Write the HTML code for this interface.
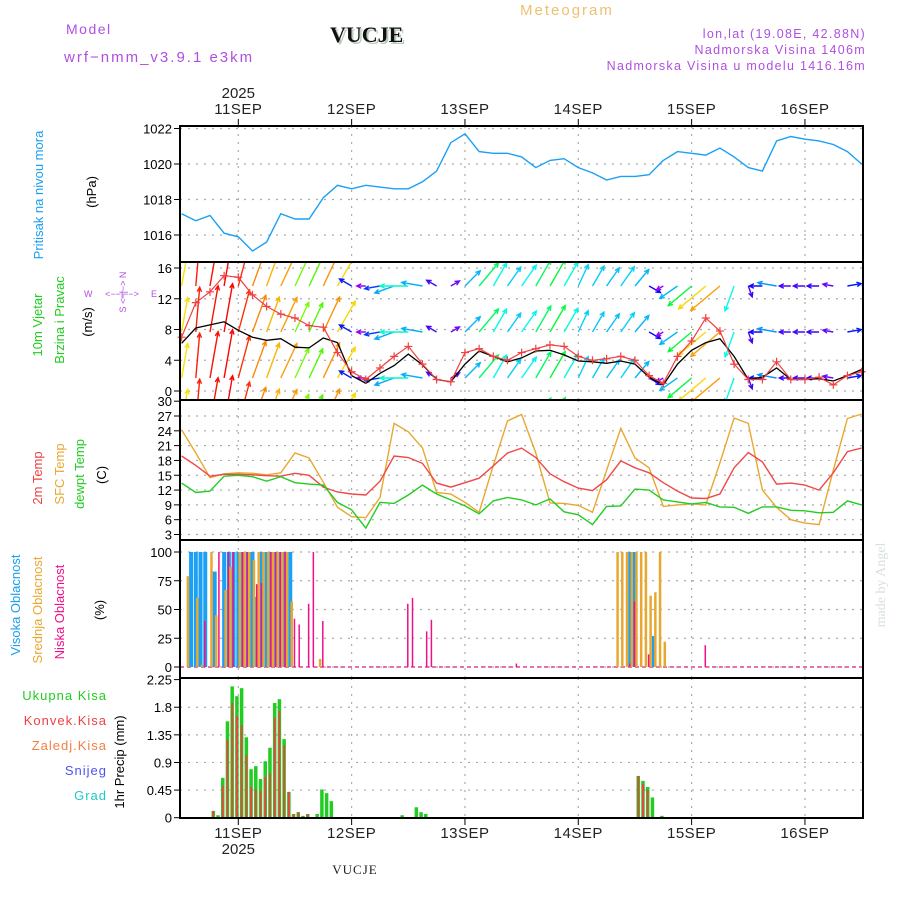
<!DOCTYPE html>
<html><head><meta charset="utf-8"><style>
html,body{margin:0;padding:0;background:#fff;}
svg{display:block;font-family:"Liberation Sans",sans-serif;}
</style></head><body>
<svg id="chart" width="900" height="900" viewBox="0 0 900 900" xmlns="http://www.w3.org/2000/svg">
<rect width="900" height="900" fill="#fff"/>
<g>
<text x="66" y="34" font-size="14" fill="#b04fe0" letter-spacing="1.5">Model</text>
<text x="64" y="62" font-size="15" fill="#b04fe0" letter-spacing="2">wrf−nmm_v3.9.1 e3km</text>
<text x="332" y="44" font-size="22" font-weight="bold" font-family="Liberation Serif,serif" fill="#b9ccb9">VUCJE</text>
<text x="330" y="42" font-size="22" font-weight="bold" font-family="Liberation Serif,serif" fill="#111">VUCJE</text>
<text x="520" y="15" font-size="15" fill="#f0c070" letter-spacing="2">Meteogram</text>
<text x="866" y="38" font-size="12.5" fill="#b04fe0" text-anchor="end" letter-spacing="1.3">lon,lat (19.08E, 42.88N)</text>
<text x="866" y="54" font-size="12.5" fill="#b04fe0" text-anchor="end" letter-spacing="1.3">Nadmorska Visina 1406m</text>
<text x="866" y="70" font-size="12.5" fill="#b04fe0" text-anchor="end" letter-spacing="1.3">Nadmorska Visina u modelu 1416.16m</text>
</g>
<g id="grid"></g>
<g id="marks"></g>
<g id="axes"></g>
<g font-size="13">
<text transform="translate(43,195) rotate(-90)" text-anchor="middle" fill="#1a9ff0">Pritisak na nivou mora</text>
<text transform="translate(96,192) rotate(-90)" text-anchor="middle" fill="#000">(hPa)</text>
<text transform="translate(42,325) rotate(-90)" text-anchor="middle" fill="#22cc22">10m Vjetar</text>
<text transform="translate(64,320) rotate(-90)" text-anchor="middle" fill="#22cc22">Brzina i Pravac</text>
<text transform="translate(92,322) rotate(-90)" text-anchor="middle" fill="#000">(m/s)</text>
<text transform="translate(126,292) rotate(-90)" text-anchor="middle" fill="#b04fe0" font-size="9">S &lt;−|−&gt; N</text>
<text x="122" y="297" text-anchor="middle" fill="#b04fe0" font-size="9">&lt;−−|−−&gt;</text>
<text x="84" y="297" fill="#b04fe0" font-size="9">W</text>
<text x="151" y="297" fill="#b04fe0" font-size="9">E</text>
<text transform="translate(42,478) rotate(-90)" text-anchor="middle" fill="#f04040">2m Temp</text>
<text transform="translate(64,474) rotate(-90)" text-anchor="middle" fill="#e8a830">SFC Temp</text>
<text transform="translate(84,474) rotate(-90)" text-anchor="middle" fill="#22cc22">dewpt Temp</text>
<text transform="translate(106,475) rotate(-90)" text-anchor="middle" fill="#000">(C)</text>
<text transform="translate(20,605) rotate(-90)" text-anchor="middle" fill="#1a9ff0">Visoka Oblacnost</text>
<text transform="translate(42,610) rotate(-90)" text-anchor="middle" fill="#e8a830">Srednja Oblacnost</text>
<text transform="translate(64,612) rotate(-90)" text-anchor="middle" fill="#f0108a">Niska Oblacnost</text>
<text transform="translate(104,610) rotate(-90)" text-anchor="middle" fill="#000">(%)</text>
<text x="107" y="700" text-anchor="end" fill="#22cc22" letter-spacing="1">Ukupna Kisa</text>
<text x="107" y="725" text-anchor="end" fill="#f04040" letter-spacing="1">Konvek.Kisa</text>
<text x="107" y="750" text-anchor="end" fill="#f08040" letter-spacing="1">Zaledj.Kisa</text>
<text x="107" y="775" text-anchor="end" fill="#5050f0" letter-spacing="1">Snijeg</text>
<text x="107" y="800" text-anchor="end" fill="#20c8c8" letter-spacing="1">Grad</text>
<text transform="translate(124,762) rotate(-90)" text-anchor="middle" fill="#000">1hr Precip (mm)</text>
</g>
<text transform="translate(885,585) rotate(-90)" text-anchor="middle" font-size="14" font-family="Liberation Serif,serif" fill="#d8e0d8">made by Angel</text>
<text x="355" y="874" text-anchor="middle" font-size="13" font-family="Liberation Serif,serif" fill="#222" letter-spacing="1">VUCJE</text>
</svg>
<script>
// time axis: hours since 10SEP 12UTC
const dayLabels = ["11SEP","12SEP","13SEP","14SEP","15SEP","16SEP"];
const dayHours = [12,36,60,84,108,132];
const hours3 = [0,3,6,9,12,15,18,21,24,27,30,33,36,39,42,45,48,51,54,57,60,63,66,69,72,75,78,81,84,87,90,93,96,99,102,105,108,111,114,117,120,123,126,129,132,135,138,141,144];
const pressure = [1017.2,1016.8,1017.1,1016.1,1015.9,1015.1,1015.6,1017.2,1016.9,1016.9,1018.1,1018.8,1018.6,1018.8,1018.7,1018.6,1018.6,1019.0,1019.6,1021.2,1021.7,1020.7,1020.6,1020.6,1020.4,1019.8,1020.2,1020.3,1019.8,1019.5,1019.1,1019.3,1019.3,1019.4,1020.2,1020.7,1020.6,1020.5,1020.9,1020.4,1019.8,1019.6,1021.3,1021.55,1021.4,1021.3,1021.1,1020.7,1020.0];
const windSpeed = [6.2,8.2,8.6,9.0,7.9,7.0,6.6,6.8,5.7,5.6,6.9,6.3,2.0,1.0,2.3,3.3,4.8,3.4,1.5,1.2,3.5,5.2,4.5,3.8,4.3,5.2,5.3,4.7,3.9,3.8,3.6,3.9,3.5,1.8,0.8,3.5,5.3,6.3,6.8,4.5,1.5,1.8,3.0,1.5,1.5,1.6,1.3,2.0,2.8];
const windGust = [7.0,11.5,12.9,15.0,14.8,12.5,11.0,10.0,9.5,8.5,8.3,5.0,2.5,1.5,3.0,4.5,5.8,3.5,1.5,1.2,5.0,5.5,4.5,4.0,5.0,5.5,6.0,5.8,4.5,4.0,4.2,4.5,4.0,2.0,1.0,4.5,6.5,9.5,7.8,3.5,1.5,1.5,3.8,1.5,1.5,1.8,0.8,2.0,2.5];
const windDir = [10,5,10,10,15,20,20,25,25,25,25,30,300,270,260,250,270,280,300,60,45,40,30,35,35,30,30,30,25,30,35,35,40,120,240,235,230,230,230,200,160,270,280,270,270,270,280,80,60];
const temp2m = [18.9,17.0,14.8,15.2,15.2,15.1,14.9,14.8,15.4,15.0,12.6,11.6,11.2,11.0,13.8,18.9,18.6,17.4,13.4,12.6,13.5,14.4,16.9,19.5,20.5,18.6,15.3,13.7,12.4,11.9,14.1,17.9,16.5,15.5,13.5,11.8,10.4,10.3,11.2,16.5,19.6,17.7,13.2,13.4,13.0,12.0,15.5,19.8,20.5];
const tempSfc = [24.2,19.5,14.5,15.3,15.5,15.4,15.1,15.5,19.5,18.5,13.6,8.5,6.6,6.4,10.5,25.5,23.8,20.5,11.5,11.2,9.5,7.5,17.0,26.0,27.3,19.5,9.4,9.3,8.9,7.5,16.0,24.5,18.5,16.5,8.7,9.0,9.2,9.0,17.5,26.6,25.5,12.0,8.5,6.0,5.3,5.0,16.0,26.5,27.4];
const dewpoint = [13.4,11.5,11.8,14.8,15.0,14.7,13.8,14.7,13.5,13.2,13.0,9.5,8.0,4.3,9.5,9.3,11.0,13.0,11.2,10.0,8.8,7.2,9.8,10.5,10.0,9.0,10.2,7.6,7.0,5.0,8.7,8.8,12.2,12.0,10.0,9.6,9.2,9.5,8.6,8.5,7.3,8.6,8.6,7.9,7.8,7.4,7.5,9.8,9.0];
const highCloudHours = [2,3,4,5,7,9,10,11,12,13,14,15,16,17,18,19,20,21,22,23,95,96,100];
const highCloud = [100,100,100,100,83,100,100,100,100,100,100,100,61,100,100,100,100,100,100,100,100,100,27];
const midCloudHours = [1,3,4,6,7,9,10,12,13,14,15,16,17,18,19,20,21,22,23,29,92,93,94,95,96,97,98,99,100,101,102];
const midCloud = [79,60,2,100,45,67,87,100,100,100,93,100,100,100,100,100,100,100,57,7,100,100,100,100,100,100,100,62,65,100,22];
const lowCloudHours = [5,8,10,11,13,14,16,17,19,20,21,22,24,25,27,28,30,48,49,52,53,71,95,96,99,111];
const lowCloud = [40,100,100,100,100,100,72,73,100,100,100,100,42,37,55,100,40,55,60,31,41,3,3,57,11,19];
const precipHours = [7,8,9,10,11,12,13,14,15,16,17,18,19,20,21,22,23,24,25,26,27,29,30,31,32,47,50,51,52,97,98,99,100,102];
const precipTotal = [0.11,0.04,0.65,1.57,2.14,1.98,2.11,1.31,0.79,0.84,0.63,0.92,1.14,1.87,1.93,1.28,0.42,0.06,0.09,0.03,0.06,0.06,0.46,0.40,0.27,0.04,0.17,0.09,0.06,0.68,0.6,0.5,0.33,0.03];
const precipConv = [0.11,0,0.52,1.27,1.87,1.66,1.51,1.02,0.5,0.46,0.44,0.66,0.73,1.63,1.74,1.18,0.42,0.06,0.09,0.02,0.06,0,0,0,0,0,0,0,0,0.68,0.55,0.45,0,0];
const pTicks = [1016,1018,1020,1022];
const wTicks = [0,4,8,12,16];
const tTicks = [3,6,9,12,15,18,21,24,27,30];
const cTicks = [0,25,50,75,100];
const rTicks = [0,0.45,0.9,1.35,1.8,2.25];
const rTickLabels = ["0","0.45","0.9","1.35","1.8","2.25"];

const NS="http://www.w3.org/2000/svg";
const XL=180, XR=863;
const xS = h => 181.64 + h*4.722;
function lin(d0,d1,r0,r1){return v=>r0+(v-d0)*(r1-r0)/(d1-d0);}
const panels = [
 {name:"pressure",top:126,bot:262,y:lin(1016,1022,235,128.5),ticks:pTicks},
 {name:"wind",top:262,bot:400,y:lin(0,16,391,268),ticks:wTicks},
 {name:"temperature",top:400,bot:540,y:lin(3,27,534.5,416),ticks:tTicks},
 {name:"cloud",top:540,bot:678,y:lin(0,100,667,552),ticks:cTicks},
 {name:"precip",top:678,bot:818,y:lin(0,2.25,817.7,679.6),ticks:rTicks,labels:rTickLabels}
];
const grid=document.getElementById('grid'), marks=document.getElementById('marks'), axes=document.getElementById('axes');
function el(tag,attrs,parent){const e=document.createElementNS(NS,tag);for(const k in attrs)e.setAttribute(k,attrs[k]);parent.appendChild(e);return e;}

const defs=el('defs',{},document.getElementById('chart'));
panels.forEach((p,i)=>{const c=el('clipPath',{id:'clip'+i},defs);el('rect',{x:XL,y:p.top,width:XR-XL,height:p.bot-p.top},c);});

panels.forEach((p,i)=>{
  p.ticks.forEach((t,j)=>{
    const y=p.y(t);
    if(y>p.top+2 && y<p.bot-2){
      const g=el('line',{x1:XL,x2:XR,y1:y,y2:y,stroke:'#aaa','stroke-width':1.2,'stroke-dasharray':'2 6'},grid);
      
      
    }
    const tk=el('line',{x1:XL-6,x2:XL,y1:y,y2:y,stroke:'#000','stroke-width':1},axes);
    
    
    const lb=el('text',{x:XL-8,y:y+5,'text-anchor':'end','font-size':13,fill:'#000'},axes);
    lb.textContent = p.labels?p.labels[j]:String(t);
    
    
  });
  dayHours.forEach(h=>{
    const vg=el('line',{x1:xS(h),x2:xS(h),y1:p.top,y2:p.bot,stroke:'#aaa','stroke-width':1.2,'stroke-dasharray':'2 6'},grid);
    
    
  });
  const fr=el('rect',{x:XL,y:p.top,width:XR-XL,height:p.bot-p.top,fill:'none',stroke:'#000','stroke-width':2},axes);
  
  
});
dayHours.forEach((h,i)=>{
  const x=xS(h);
  const t=el('line',{x1:x,x2:x,y1:119,y2:126,stroke:'#000'},axes);
  
  
  const b=el('line',{x1:x,x2:x,y1:818,y2:825,stroke:'#000'},axes);
  
  
  const lt=el('text',{x:x,y:114,'text-anchor':'middle','font-size':15,fill:'#222','letter-spacing':0.5},axes);
  lt.textContent=dayLabels[i];
  
  
  const lb=el('text',{x:x,y:838,'text-anchor':'middle','font-size':15,fill:'#222','letter-spacing':0.5},axes);
  lb.textContent=dayLabels[i];
  
  
});
const y1=el('text',{x:xS(12),y:98,'text-anchor':'middle','font-size':15,fill:'#222'},axes);y1.textContent='2025';


const y2=el('text',{x:xS(12),y:854,'text-anchor':'middle','font-size':15,fill:'#222'},axes);y2.textContent='2025';



function line(vals,p,color,name,w){
  const d=vals.map((v,i)=>(i?'L':'M')+xS(hours3[i]).toFixed(1)+','+p.y(v).toFixed(1)).join('');
  const pl=el('path',{d:d,fill:'none',stroke:color,'stroke-width':w||1.3},marks);
  
  
  return pl;
}
line(pressure,panels[0],'#1aa0f5','pressure-line',1.4);

const wp=panels[1];
const wg=el('g',{'clip-path':'url(#clip1)'},marks);


function spdColor(v){
  const stops=[[1,275],[2,235],[3,205],[4,188],[5,165],[6,60],[7,32],[8,8],[9,0]];
  let h=stops[0][1];
  if(v>=9)h=0;else for(let i=0;i<stops.length-1;i++){if(v>=stops[i][0]&&v<stops[i+1][0]){const f=(v-stops[i][0]);h=stops[i][1]+(stops[i+1][1]-stops[i][1])*f;}}
  return 'hsl('+h+',95%,50%)';
}
const rowBase=[286,332,378,424];
rowBase.forEach(by=>{
  hours3.forEach((h,i)=>{
    const L=windSpeed[i]*5+4, a=windDir[i]*Math.PI/180;
    const bx=xS(h), tx=bx+L*Math.sin(a), ty=by-L*Math.cos(a);
    const c=spdColor(windSpeed[i]);
    const ha1=a+Math.PI-0.45, ha2=a+Math.PI+0.45;
    const d='M'+bx.toFixed(1)+','+by+'L'+tx.toFixed(1)+','+ty.toFixed(1)+
      'M'+(tx+5*Math.sin(ha1)).toFixed(1)+','+(ty-5*Math.cos(ha1)).toFixed(1)+'L'+tx.toFixed(1)+','+ty.toFixed(1)+
      'L'+(tx+5*Math.sin(ha2)).toFixed(1)+','+(ty-5*Math.cos(ha2)).toFixed(1);
    const ar=el('path',{d:d,stroke:c,'stroke-width':1.4,fill:'none'},wg);
    
    
  });
});
line(windSpeed,wp,'#000','wind-speed-line',1.3);
line(windGust,wp,'#f04040','wind-gust-line',1.2);
hours3.forEach((h,i)=>{
  const x=xS(h),y=wp.y(windGust[i]);
  const m=el('path',{d:`M${x-4},${y}H${x+4}M${x},${y-4}V${y+4}`,stroke:'#f04040','stroke-width':1.2},marks);
  
  
});

const tp=panels[2];
line(tempSfc,tp,'#e8a830','sfc-temp-line',1.4);
line(temp2m,tp,'#f04848','temp-2m-line',1.4);
line(dewpoint,tp,'#22cc22','dewpoint-line',1.4);

const cp=panels[3];
const zl=el('line',{x1:XL,x2:XR,y1:cp.y(0),y2:cp.y(0),stroke:'#e870b0','stroke-width':2,'stroke-dasharray':'4 3'},marks);


function bars(hs,vals,p,color,w,off,name){
  hs.forEach((h,i)=>{
    if(vals[i]<=0)return;
    const y=p.y(vals[i]), y0=p.y(0);
    const r=el('rect',{x:xS(h)+off-w/2,y:y,width:w,height:y0-y,fill:color},marks);
    
    
  });
}
bars(highCloudHours,highCloud,cp,'#1aa0f5',4,0,'high-cloud-bar');
bars(midCloudHours,midCloud,cp,'#e8a830',2.5,1.5,'mid-cloud-bar');
bars(lowCloudHours,lowCloud,cp,'#f0108a',1.5,-0.5,'low-cloud-bar');

const rp=panels[4];
bars(precipHours,precipTotal,rp,'#22cc22',3.5,-1.4,'total-precip-bar');
bars(precipHours,precipConv,rp,'#f04040',1.8,-1.4,'convective-precip-bar');
[678,818].forEach(yy=>{
  const dl=el('line',{x1:XL,x2:XR,y1:yy,y2:yy,stroke:'#000','stroke-width':2,'stroke-dasharray':'6 2'},axes);
  
  
});
</script>
</body></html>
